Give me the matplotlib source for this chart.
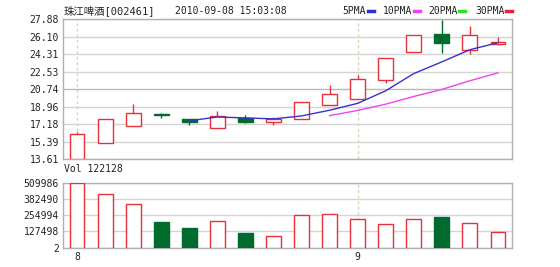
import matplotlib
matplotlib.use("Agg")
import matplotlib.pyplot as plt

plt.rcParams['font.family'] = ['DejaVu Sans Mono', 'Noto Sans CJK SC']

# daily candles
opens = [13.61, 15.24, 16.97, 18.25, 17.68, 16.76, 17.78, 17.43,
         17.71, 19.13, 19.74, 21.64, 24.55, 26.35, 24.76, 25.37]
closes = [16.15, 17.68, 18.35, 18.12, 17.37, 18.01, 17.43, 17.68,
          19.41, 20.25, 21.75, 23.88, 26.25, 25.41, 26.25, 25.57]
highs = [16.36, 17.68, 19.26, 18.35, 17.68, 18.52, 18.12, 17.94,
         19.41, 21.17, 22.18, 23.88, 26.25, 27.78, 27.20, 26.08]
lows = [13.61, 15.24, 16.97, 17.85, 17.10, 16.76, 17.27, 17.10,
        17.71, 19.13, 19.74, 21.40, 24.55, 24.39, 24.29, 25.23]
volumes = [509986, 419000, 342900, 199300, 152200, 211800, 113000, 91800,
           256600, 264400, 227500, 183600, 227500, 243200, 191400, 122128]

ma5_start = 4
ma5 = [17.53, 17.91, 17.82, 17.72, 18.02, 18.60, 19.30, 20.58, 22.33, 23.52, 24.76, 25.47]
ma10_start = 9
ma10 = [18.05, 18.58, 19.22, 20.00, 20.72, 21.60, 22.40]

price_ticks = ["13.61", "15.39", "17.18", "18.96", "20.74", "22.53", "24.31", "26.10", "27.88"]
vol_ticks = ["2", "127498", "254994", "382490", "509986"]
month_idx = [0, 10]
month_labels = ["8", "9"]

RED = '#e8303a'
GREEN = '#006b2d'
GRID = '#d4d4d4'
SPINE = '#b0b0b0'
DASH = '#d9d2b0'
FS = 7
TXT = '#222222'

fig = plt.figure(figsize=(5.6, 2.67), dpi=100)
ax = fig.add_axes([0.1125, 0.4034, 0.8018, 0.5254])
axv = fig.add_axes([0.1125, 0.0723, 0.8018, 0.2434])

n = len(opens)
x = list(range(n))
w = 0.53

for a in (ax, axv):
    a.set_xlim(-0.5, n - 0.5)
    for s in a.spines.values():
        s.set_color(SPINE)
        s.set_linewidth(1.0)
    a.tick_params(length=0, labelsize=FS, colors=TXT, pad=3)
    a.set_axisbelow(True)
    for i in month_idx:
        a.axvline(i, color=DASH, linestyle=(0, (2, 2)), linewidth=1.0, zorder=0)

# price panel
pv = [float(t) for t in price_ticks]
ax.set_ylim(pv[0], pv[-1])
ax.set_yticks(pv)
ax.set_yticklabels(price_ticks)
ax.set_xticks([])
ax.yaxis.grid(True, color=GRID, linewidth=1.0)
ax.get_ygridlines()[4].set_color('#b8b8b8')

for i in x:
    o, c, h, l = opens[i], closes[i], highs[i], lows[i]
    up = c >= o
    col = RED if up else GREEN
    lo, hi = min(o, c), max(o, c)
    body = max(hi - lo, 0.06)
    ax.bar(i, body, bottom=lo, width=w, facecolor='white' if up else GREEN,
           edgecolor=col, linewidth=1.0, zorder=3)
    if h > hi:
        ax.vlines(i, hi, h, color=col, linewidth=1.0, zorder=3)
    if l < lo:
        ax.vlines(i, l, lo, color=col, linewidth=1.0, zorder=3)

ax.plot(range(ma5_start, ma5_start + len(ma5)), ma5, color='#3333cc', linewidth=1.0, zorder=4)
ax.plot(range(ma10_start, ma10_start + len(ma10)), ma10, color='#ee44ee', linewidth=1.0, zorder=4)

# volume panel
vv = [float(t) for t in vol_ticks]
axv.set_ylim(vv[0], vv[-1])
axv.set_yticks(vv)
axv.set_yticklabels(vol_ticks)
axv.yaxis.grid(True, color=GRID, linewidth=1.0)
axv.set_xticks(month_idx)
axv.set_xticklabels(month_labels)
for i in x:
    up = closes[i] >= opens[i]
    axv.bar(i, volumes[i] - vv[0], bottom=vv[0], width=w,
            facecolor='white' if up else GREEN,
            edgecolor=RED if up else GREEN, linewidth=1.0, zorder=3)

# header texts
fig.text(64 / 560, 1 - 11 / 267, "珠江啤酒[002461]", fontsize=7.5, va='center', color=TXT)
fig.text(175 / 560, 1 - 11 / 267, "2010-09-08 15:03:08", fontsize=FS, va='center', color=TXT)
legend = [("5PMA", 342, '#3333cc'), ("10PMA", 383, '#ee44ee'),
          ("20PMA", 428, '#33dd33'), ("30PMA", 475, '#ee2233')]
fig.canvas.draw()
for name, px, col in legend:
    t = fig.text(px / 560, 1 - 11 / 267, name, fontsize=FS, va='center', color=TXT)
    bb = t.get_window_extent(renderer=fig.canvas.get_renderer())
    x0 = bb.x1 + 2
    fig.add_artist(plt.Line2D([x0 / 560, (x0 + 6) / 560], [1 - 11 / 267] * 2,
                              color=col, linewidth=2.5, transform=fig.transFigure))

fig.text(64 / 560, 1 - 169 / 267, "Vol 122128", fontsize=FS, va='center', color=TXT)

fig.savefig("out.png", dpi=100, facecolor='white')
